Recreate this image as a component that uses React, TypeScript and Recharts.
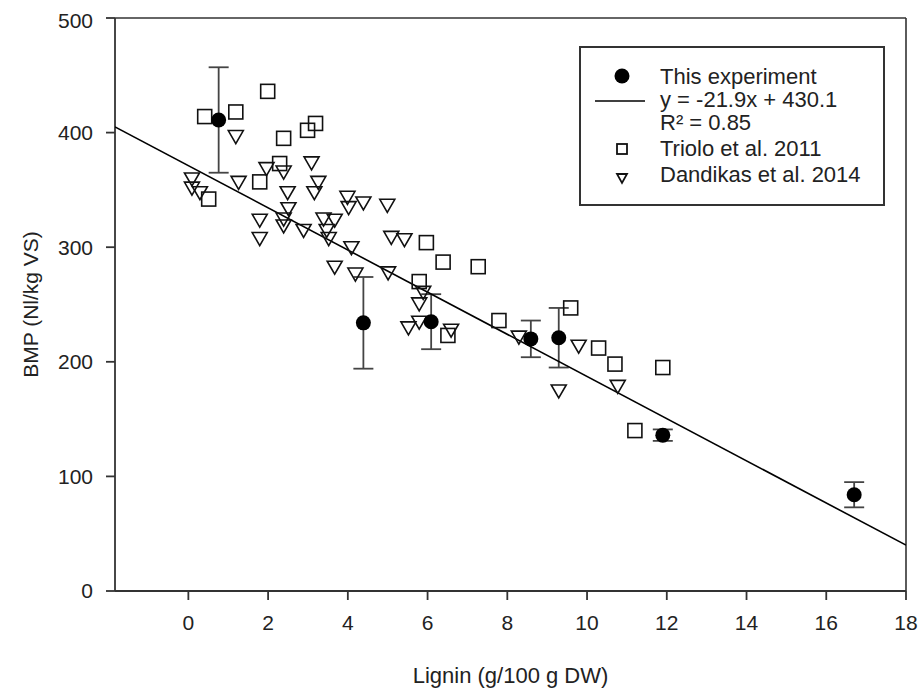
import { ScatterChart, Scatter, XAxis, YAxis, ErrorBar, ReferenceLine, Legend } from "recharts";

// This experiment (mean +/- error)
const thisExperiment = [
  { x: 0.76, y: 411, err: 46 },
  { x: 4.39, y: 234, err: 40 },
  { x: 6.09, y: 235, err: 24 },
  { x: 8.59, y: 220, err: 16 },
  { x: 9.29, y: 221, err: 26 },
  { x: 11.9, y: 136, err: 5 },
  { x: 16.7, y: 84, err: 11 },
];

// Triolo et al. 2011
const triolo = [
  { x: 0.41, y: 414 }, { x: 1.19, y: 418 }, { x: 1.99, y: 436 }, { x: 3.19, y: 408 },
  { x: 2.99, y: 402 }, { x: 2.39, y: 395 }, { x: 2.29, y: 373 }, { x: 1.79, y: 357 },
  { x: 0.51, y: 342 }, { x: 6.39, y: 287 }, { x: 7.27, y: 283 }, { x: 5.79, y: 270 },
  { x: 6.51, y: 223 }, { x: 5.97, y: 304 }, { x: 7.79, y: 236 }, { x: 9.59, y: 247 },
  { x: 10.29, y: 212 }, { x: 10.7, y: 198 }, { x: 11.9, y: 195 }, { x: 11.2, y: 140 },
];

// Dandikas et al. 2014
const dandikas = [
  { x: 1.19, y: 397 }, { x: 0.09, y: 360 }, { x: 0.09, y: 352 }, { x: 0.29, y: 348 },
  { x: 1.26, y: 357 }, { x: 3.09, y: 374 }, { x: 3.26, y: 357 }, { x: 3.16, y: 348 },
  { x: 2.49, y: 348 }, { x: 2.51, y: 334 }, { x: 2.39, y: 325 }, { x: 2.39, y: 319 },
  { x: 1.79, y: 324 }, { x: 1.79, y: 308 }, { x: 1.96, y: 369 }, { x: 2.39, y: 366 },
  { x: 2.89, y: 315 }, { x: 3.39, y: 325 }, { x: 3.67, y: 324 }, { x: 3.47, y: 315 },
  { x: 3.52, y: 308 }, { x: 3.99, y: 344 }, { x: 4.02, y: 335 }, { x: 4.39, y: 339 },
  { x: 4.99, y: 337 }, { x: 4.09, y: 300 }, { x: 3.67, y: 283 }, { x: 4.19, y: 277 },
  { x: 5.01, y: 278 }, { x: 5.09, y: 309 }, { x: 5.42, y: 307 }, { x: 5.89, y: 261 },
  { x: 5.79, y: 251 }, { x: 5.52, y: 230 }, { x: 5.79, y: 235 }, { x: 6.59, y: 228 },
  { x: 8.29, y: 222 }, { x: 9.79, y: 214 }, { x: 9.29, y: 175 }, { x: 10.77, y: 179 },
];

// regression line as drawn (end points)
const fitLine = [
  { x: -1.84, y: 405 },
  { x: 18, y: 40 },
];

const xTicks = [0, 2, 4, 6, 8, 10, 12, 14, 16, 18];
const yTicks = [0, 100, 200, 300, 400, 500];

const legendRows = [
  { label: "This experiment", marker: "circle" },
  { label: "y = -21.9x + 430.1", marker: "line" },
  { label: "R² = 0.85", marker: "" },
  { label: "Triolo et al. 2011", marker: "square" },
  { label: "Dandikas et al. 2014", marker: "triangle" },
];

const FONT = "'Liberation Sans', Arial, sans-serif";

const Circle = (p: any) => <circle cx={p.cx} cy={p.cy} r={7.5} fill="#000" />;
const Square = (p: any) => (
  <rect x={p.cx - 7} y={p.cy - 7} width={14} height={14} fill="none" stroke="#111" strokeWidth={1.6} />
);
const Triangle = (p: any) => (
  <path
    d={`M${p.cx - 7.5},${p.cy - 5.5} L${p.cx + 7.5},${p.cy - 5.5} L${p.cx},${p.cy + 7.5} Z`}
    fill="none"
    stroke="#111"
    strokeWidth={1.6}
  />
);

// row text tops and marker centres inside the legend box
const rowTops = [17, 40, 63, 89, 115];
const markerY = [28, 53, 0, 101, 130];

function Marker({ kind, y }: { kind: string; y: number }) {
  return (
    <svg width={70} height={20} style={{ position: "absolute", left: 6, top: y - 10 }}>
      {kind === "circle" && <circle cx={35} cy={10} r={7.5} fill="#000" />}
      {kind === "line" && <line x1={8} x2={58} y1={10} y2={10} stroke="#000" strokeWidth={1.6} />}
      {kind === "square" && <rect x={30} y={5} width={10} height={10} fill="none" stroke="#111" strokeWidth={1.8} />}
      {kind === "triangle" && <path d="M30,6 L40,6 L35,15 Z" fill="none" stroke="#111" strokeWidth={1.8} />}
    </svg>
  );
}

function renderLegend() {
  return (
    <div
      style={{
        position: "relative",
        width: 302,
        height: 156,
        border: "2px solid #333",
        background: "#fff",
        fontFamily: FONT,
        fontSize: 22,
        color: "#222",
      }}
    >
      {legendRows.map((r, i) => (
        <div key={i}>
          {r.marker && <Marker kind={r.marker} y={markerY[i]} />}
          <span
            style={{ position: "absolute", left: 79, top: rowTops[i], lineHeight: "24px", whiteSpace: "nowrap" }}
          >
            {r.label}
          </span>
        </div>
      ))}
    </div>
  );
}

const yLabel = (props: any) => {
  const vb = props.viewBox;
  const cx = 22;
  const cy = vb.y + vb.height / 2;
  return (
    <text
      x={cx}
      y={cy}
      transform={`rotate(-90 ${cx} ${cy})`}
      textAnchor="middle"
      dominantBaseline="central"
      fontFamily={FONT}
      fontSize={21}
      fill="#222"
    >
      BMP (Nl/kg VS)
    </text>
  );
};

const xLabel = (props: any) => {
  const vb = props.viewBox;
  return (
    <text
      x={vb.x + vb.width / 2}
      y={667}
      textAnchor="middle"
      dominantBaseline="central"
      fontFamily={FONT}
      fontSize={22}
      fill="#222"
    >
      Lignin (g/100 g DW)
    </text>
  );
};

export default function App() {
  const tick = { fontSize: 21, fill: "#222", fontFamily: FONT };
  return (
    <div style={{ position: "absolute", left: 8, top: 8 }}>
      <ScatterChart width={914} height={683} margin={{ top: 10, right: 16, left: 0, bottom: 0 }}>
        <XAxis
          type="number"
          dataKey="x"
          domain={[-1.84, 18]}
          ticks={xTicks}
          allowDataOverflow
          height={100}
          tickSize={9}
          tickMargin={15}
          tick={tick}
          axisLine={{ stroke: "#333", strokeWidth: 1.8 }}
          tickLine={{ stroke: "#333", strokeWidth: 1.8 }}
          label={{ content: xLabel }}
        />
        <YAxis
          type="number"
          dataKey="y"
          domain={[0, 500]}
          ticks={yTicks}
          allowDataOverflow
          width={107}
          tickSize={9}
          tickMargin={13}
          tick={tick}
          axisLine={{ stroke: "#333", strokeWidth: 1.8 }}
          tickLine={{ stroke: "#333", strokeWidth: 1.8 }}
          label={{ content: yLabel }}
        />
        <ReferenceLine y={500} stroke="#333" strokeWidth={1.6} />
        <ReferenceLine x={18} stroke="#333" strokeWidth={1.6} />
        <Scatter
          name="fit"
          data={fitLine}
          line={{ stroke: "#000", strokeWidth: 1.6 }}
          shape={() => null}
          isAnimationActive={false}
          legendType="none"
        />
        <Scatter name="Triolo et al. 2011" data={triolo} shape={Square} isAnimationActive={false} />
        <Scatter name="Dandikas et al. 2014" data={dandikas} shape={Triangle} isAnimationActive={false} />
        <Scatter name="This experiment" data={thisExperiment} shape={Circle} isAnimationActive={false}>
          <ErrorBar dataKey="err" direction="y" width={10} stroke="#444" strokeWidth={1.8} />
        </Scatter>
        <Legend
          layout="vertical"
          verticalAlign="middle"
          align="center"
          content={renderLegend}
          wrapperStyle={{ left: 571, top: 38, width: 306, height: 160 }}
        />
      </ScatterChart>
    </div>
  );
}
